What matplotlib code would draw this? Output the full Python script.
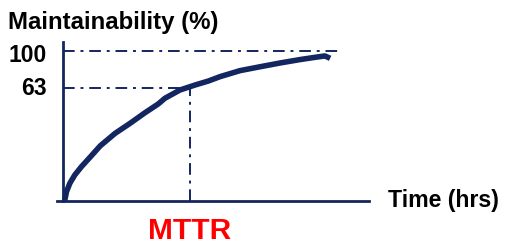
import matplotlib.pyplot as plt

# Maintainability curve (x: time in axis units, y: axis units)
time = [0.5, 1.1, 2.2, 3.8, 6.0, 9.3, 12.1, 17.0, 21.9, 26.8, 31.1, 33.3, 38.2,
        43.1, 47.5, 51.3, 57.8, 64.4, 70.9, 77.5, 82.4, 85.6, 87.3]
maint = [0.0, 6.2, 11.8, 17.3, 22.9, 30.3, 36.7, 45.1, 51.8, 58.9, 64.7, 68.5, 74.0,
         77.3, 80.0, 82.9, 86.9, 89.5, 92.0, 94.3, 95.8, 96.7, 95.1]

# reference levels: position on the axis and printed label
levels = [100, 75.3]
level_labels = ["100", "63"]
level_ends = [90.5, 41.5]
mttr = 41.5

navy = "#14265f"
plt.rcParams["font.family"] = ["Liberation Sans", "DejaVu Sans"]

fig = plt.figure(figsize=(5.06, 2.45), dpi=100)
ax = fig.add_axes([57 / 506, 44 / 245, 312 / 506, 159 / 245])
ax.set_xlim(-2, 100)
ax.set_ylim(0, 106)
ax.axis("off")

# axes lines
ax.plot([-2, 100], [0, 0], color=navy, lw=2, clip_on=False)
ax.plot([0, 0], [0, 106], color=navy, lw=2, clip_on=False)

# dash-dot guide lines
dashdot = (0, (6, 3, 1.5, 3))
for lv, end in zip(levels, level_ends):
    ax.plot([0, end], [lv, lv], color=navy, lw=1.4, ls=dashdot)
ax.plot([mttr, mttr], [0, levels[1]], color=navy, lw=1.4, ls=dashdot)

# the curve
ax.plot(time, maint, color=navy, lw=4, solid_capstyle="butt", solid_joinstyle="round")

# labels
for lv, lab in zip(levels, level_labels):
    off = -3 if lab == "100" else 0
    ax.text(-5.5, lv + off, lab, ha="right", va="center", fontsize=16.5, fontweight="bold")

fig.text(8 / 506, 1 - 22 / 245, "Maintainability (%)", ha="left", va="center",
         fontsize=17.3, fontweight="bold")
fig.text(388 / 506, 1 - 201 / 245, "Time (hrs)", ha="left", va="center",
         fontsize=16.7, fontweight="bold")
ax.text(mttr, -25.3, "MTTR", ha="center", va="baseline", color="#ff0000",
        fontsize=21.5, fontweight="bold", clip_on=False)

fig.savefig("out.png", dpi=100)
